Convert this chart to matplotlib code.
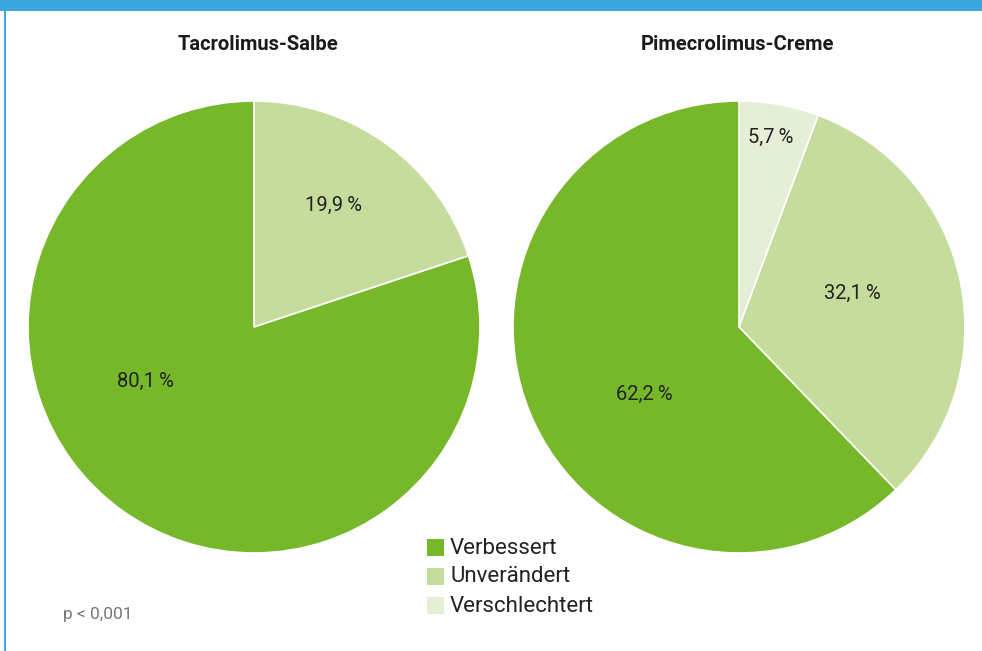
import matplotlib
matplotlib.use("Agg")
import matplotlib.pyplot as plt
from matplotlib.patches import Rectangle
import numpy as np

plt.rcParams['font.family'] = ['Roboto', 'DejaVu Sans']

titles = ["Tacrolimus-Salbe", "Pimecrolimus-Creme"]
categories = ["Verbessert", "Unverändert", "Verschlechtert"]
# values in clockwise order starting at 12 o'clock
left_labels = ["Unverändert", "Verbessert"]
left_values = [19.9, 80.1]
right_labels = ["Verschlechtert", "Unverändert", "Verbessert"]
right_values = [5.7, 32.1, 62.2]
pct_texts_left = ["19,9\u2009%", "80,1\u2009%"]
pct_texts_right = ["5,7\u2009%", "32,1\u2009%", "62,2\u2009%"]
p_text = "p < 0,001"

colors = {"Verbessert": "#76B82A", "Unverändert": "#C5DC9C", "Verschlechtert": "#E5EED6"}

W, H = 982, 651
fig = plt.figure(figsize=(W / 100, H / 100), dpi=100)
fig.patch.set_facecolor("white")

# frame decoration
fig.add_artist(Rectangle((0, 1 - 11 / H), 1, 11 / H, transform=fig.transFigure,
                         color="#3DA8E0", lw=0, zorder=5))
fig.add_artist(Rectangle((4 / W, 0), 2.5 / W, 1, transform=fig.transFigure,
                         color="#3DA8E0", lw=0, zorder=5))

def pie_axes(cx, cy, r):
    ax = fig.add_axes([(cx - r) / W, 1 - (cy + r) / H, 2 * r / W, 2 * r / H])
    ax.axis("off")
    return ax

R = 226
ax1 = pie_axes(254, 327, R)
ax2 = pie_axes(739, 327, R)

for ax, labs, vals in [(ax1, left_labels, left_values), (ax2, right_labels, right_values)]:
    ax.pie(vals, colors=[colors[l] for l in labs], startangle=90, counterclock=False,
           radius=1, wedgeprops=dict(edgecolor="white", linewidth=1.2))
    ax.set_xlim(-1, 1)
    ax.set_ylim(-1, 1)
    ax.set_aspect("equal")

# label positions (in units of radius)
left_pos = [(0.35, 0.54), (-0.48, -0.24)]
right_pos = [(0.14, 0.84), (0.50, 0.15), (-0.42, -0.30)]
for ax, txts, pos in [(ax1, pct_texts_left, left_pos), (ax2, pct_texts_right, right_pos)]:
    for t, (x, y) in zip(txts, pos):
        ax.text(x, y, t, ha="center", va="center", fontsize=14.5, color="#222222")

fig.text(258 / W, 1 - 44 / H, titles[0], ha="center", va="center", fontsize=14.5,
         fontweight="bold", color="#1a1a1a")
fig.text(738 / W, 1 - 44 / H, titles[1], ha="center", va="center", fontsize=14.5,
         fontweight="bold", color="#1a1a1a")

# legend
leg_y = [548, 577, 606]
for cat, y in zip(categories, leg_y):
    fig.add_artist(Rectangle((427 / W, 1 - (y + 8) / H), 17 / W, 17 / H,
                             transform=fig.transFigure, color=colors[cat], lw=0))
    fig.text(450 / W, 1 - y / H, cat, ha="left", va="center", fontsize=16, color="#222222")

fig.text(63 / W, 1 - 614 / H, p_text, ha="left", va="center", fontsize=12.5, color="#777777")

fig.savefig("out.png", dpi=100)
